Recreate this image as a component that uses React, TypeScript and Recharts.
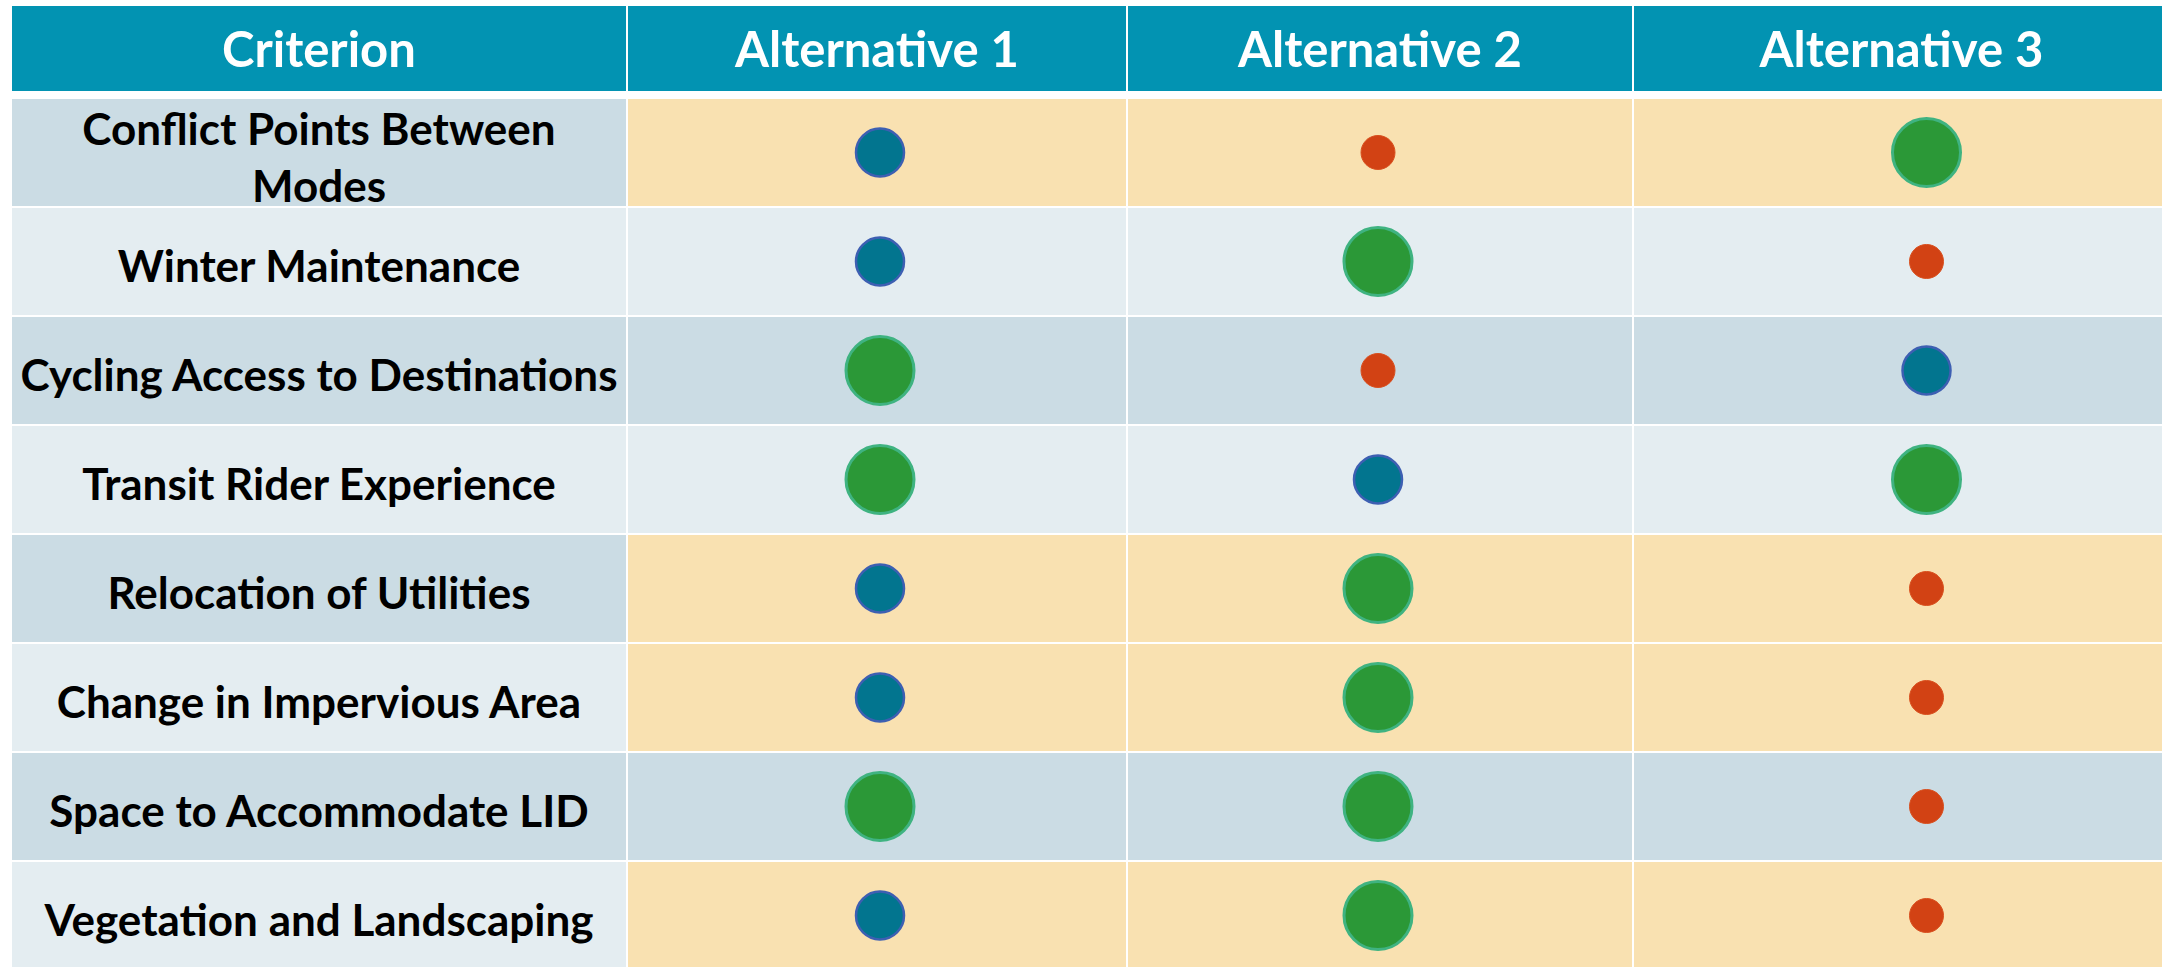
import React from 'react';
import { ScatterChart, Scatter, XAxis, YAxis, ReferenceArea } from 'recharts';

const headerLabel = 'Criterion';
const alternatives = ['Alternative 1', 'Alternative 2', 'Alternative 3'];
const criteria = [
  'Conflict Points Between\nModes',
  'Winter Maintenance',
  'Cycling Access to Destinations',
  'Transit Rider Experience',
  'Relocation of Utilities',
  'Change in Impervious Area',
  'Space to Accommodate LID',
  'Vegetation and Landscaping',
];
// 3 = best (large green), 2 = fair (blue), 1 = poor (small orange)
const alt1 = [2, 2, 3, 3, 2, 2, 3, 2];
const alt2 = [1, 3, 1, 2, 3, 3, 3, 3];
const alt3 = [3, 1, 2, 3, 1, 1, 1, 1];
// rows shaded amber across the alternative columns
const highlighted = [true, false, false, false, true, true, false, true];

// layout
const WIDTH = 2170;
const HEIGHT = 970;
const COL_WIDTHS = [1.232, 1, 1.012, 1.074];
// dots in the last column sit a little right of its centre
const DOT_NUDGE = [0, 0.006, -0.004, 0.05];
const HEADER_TOP = -0.853;
const HEADER_BOTTOM = -0.055;
const FONT = "Lato, 'Liberation Sans', sans-serif";

const colEdges = COL_WIDTHS.reduce<number[]>((acc, w) => [...acc, acc[acc.length - 1] + w], [0]);
const colCenter = (c: number) => (colEdges[c] + colEdges[c + 1]) / 2;
const totalWidth = colEdges[colEdges.length - 1];

const DARK = '#cbdce4';
const LIGHT = '#e4edf1';
const AMBER = '#f9e1b1';
const HEADER_FILL = '#0293b2';

const ratingStyle: Record<number, { r: number; fill: string; stroke: string; sw: number }> = {
  3: { r: 34, fill: '#2b9837', stroke: '#3fb381', sw: 3 },
  2: { r: 24, fill: '#02758f', stroke: '#3d5fb2', sw: 2.5 },
  1: { r: 17, fill: '#d24214', stroke: '#d9501f', sw: 1 },
};

const headerPts = [headerLabel, ...alternatives].map((label, c) => ({
  x: colCenter(c),
  y: (HEADER_TOP + HEADER_BOTTOM) / 2,
  label,
}));
const labelPts = criteria.map((label, r) => ({ x: colCenter(0), y: r + 0.5, label }));
const dotPts = [alt1, alt2, alt3].flatMap((vals, a) =>
  vals.map((rating, r) => ({ x: colCenter(a + 1) + DOT_NUDGE[a + 1], y: r + 0.5, rating }))
);

const HeaderText = (props: any) => (
  <text
    x={props.cx}
    y={props.cy}
    textAnchor="middle"
    dominantBaseline="central"
    fill="#ffffff"
    fontSize={49}
    fontWeight={700}
    fontFamily={FONT}
  >
    {props.payload.label}
  </text>
);

const CriterionText = (props: any) => {
  const lines: string[] = props.payload.label.split('\n');
  const lh = 57;
  const y0 = props.cy + 4 - ((lines.length - 1) * lh) / 2;
  return (
    <g>
      {lines.map((line, i) => (
        <text
          key={i}
          x={props.cx}
          y={y0 + i * lh}
          textAnchor="middle"
          dominantBaseline="central"
          fill="#000000"
          fontSize={44}
          fontWeight={700}
          fontFamily={FONT}
        >
          {line}
        </text>
      ))}
    </g>
  );
};

const RatingDot = (props: any) => {
  const s = ratingStyle[props.payload.rating];
  return <circle cx={props.cx} cy={props.cy} r={s.r} fill={s.fill} stroke={s.stroke} strokeWidth={s.sw} />;
};

const App = () => {
  const cellFill = (row: number, col: number) => {
    if (col > 0 && highlighted[row]) return AMBER;
    return row % 2 === 0 ? DARK : LIGHT;
  };

  return (
    <div
      style={{
        position: 'absolute',
        left: 0,
        top: 0,
        width: 2162,
        height: 967,
        overflow: 'hidden',
        background: '#ffffff',
      }}
    >
      <ScatterChart width={WIDTH} height={HEIGHT} margin={{ top: 5, right: 0, bottom: 0, left: 11 }}>
        <XAxis type="number" dataKey="x" domain={[0, totalWidth]} allowDataOverflow hide />
        <YAxis type="number" dataKey="y" domain={[HEADER_TOP, criteria.length]} allowDataOverflow reversed hide />

        {[0, 1, 2, 3].map((c) => (
          <ReferenceArea
            key={`h-${c}`}
            x1={colEdges[c]}
            x2={colEdges[c + 1]}
            y1={HEADER_TOP}
            y2={HEADER_BOTTOM}
            fill={HEADER_FILL}
            fillOpacity={1}
            stroke="#ffffff"
            strokeWidth={2}
            ifOverflow="visible"
          />
        ))}
        {criteria.map((_, r) =>
          [0, 1, 2, 3].map((c) => (
            <ReferenceArea
              key={`c-${r}-${c}`}
              x1={colEdges[c]}
              x2={colEdges[c + 1]}
              y1={r}
              y2={r + 1}
              fill={cellFill(r, c)}
              fillOpacity={1}
              stroke="#ffffff"
              strokeWidth={2}
              ifOverflow="visible"
            />
          ))
        )}

        <Scatter data={headerPts} shape={HeaderText} isAnimationActive={false} />
        <Scatter data={labelPts} shape={CriterionText} isAnimationActive={false} />
        <Scatter data={dotPts} shape={RatingDot} isAnimationActive={false} />
      </ScatterChart>
    </div>
  );
};

export default App;
